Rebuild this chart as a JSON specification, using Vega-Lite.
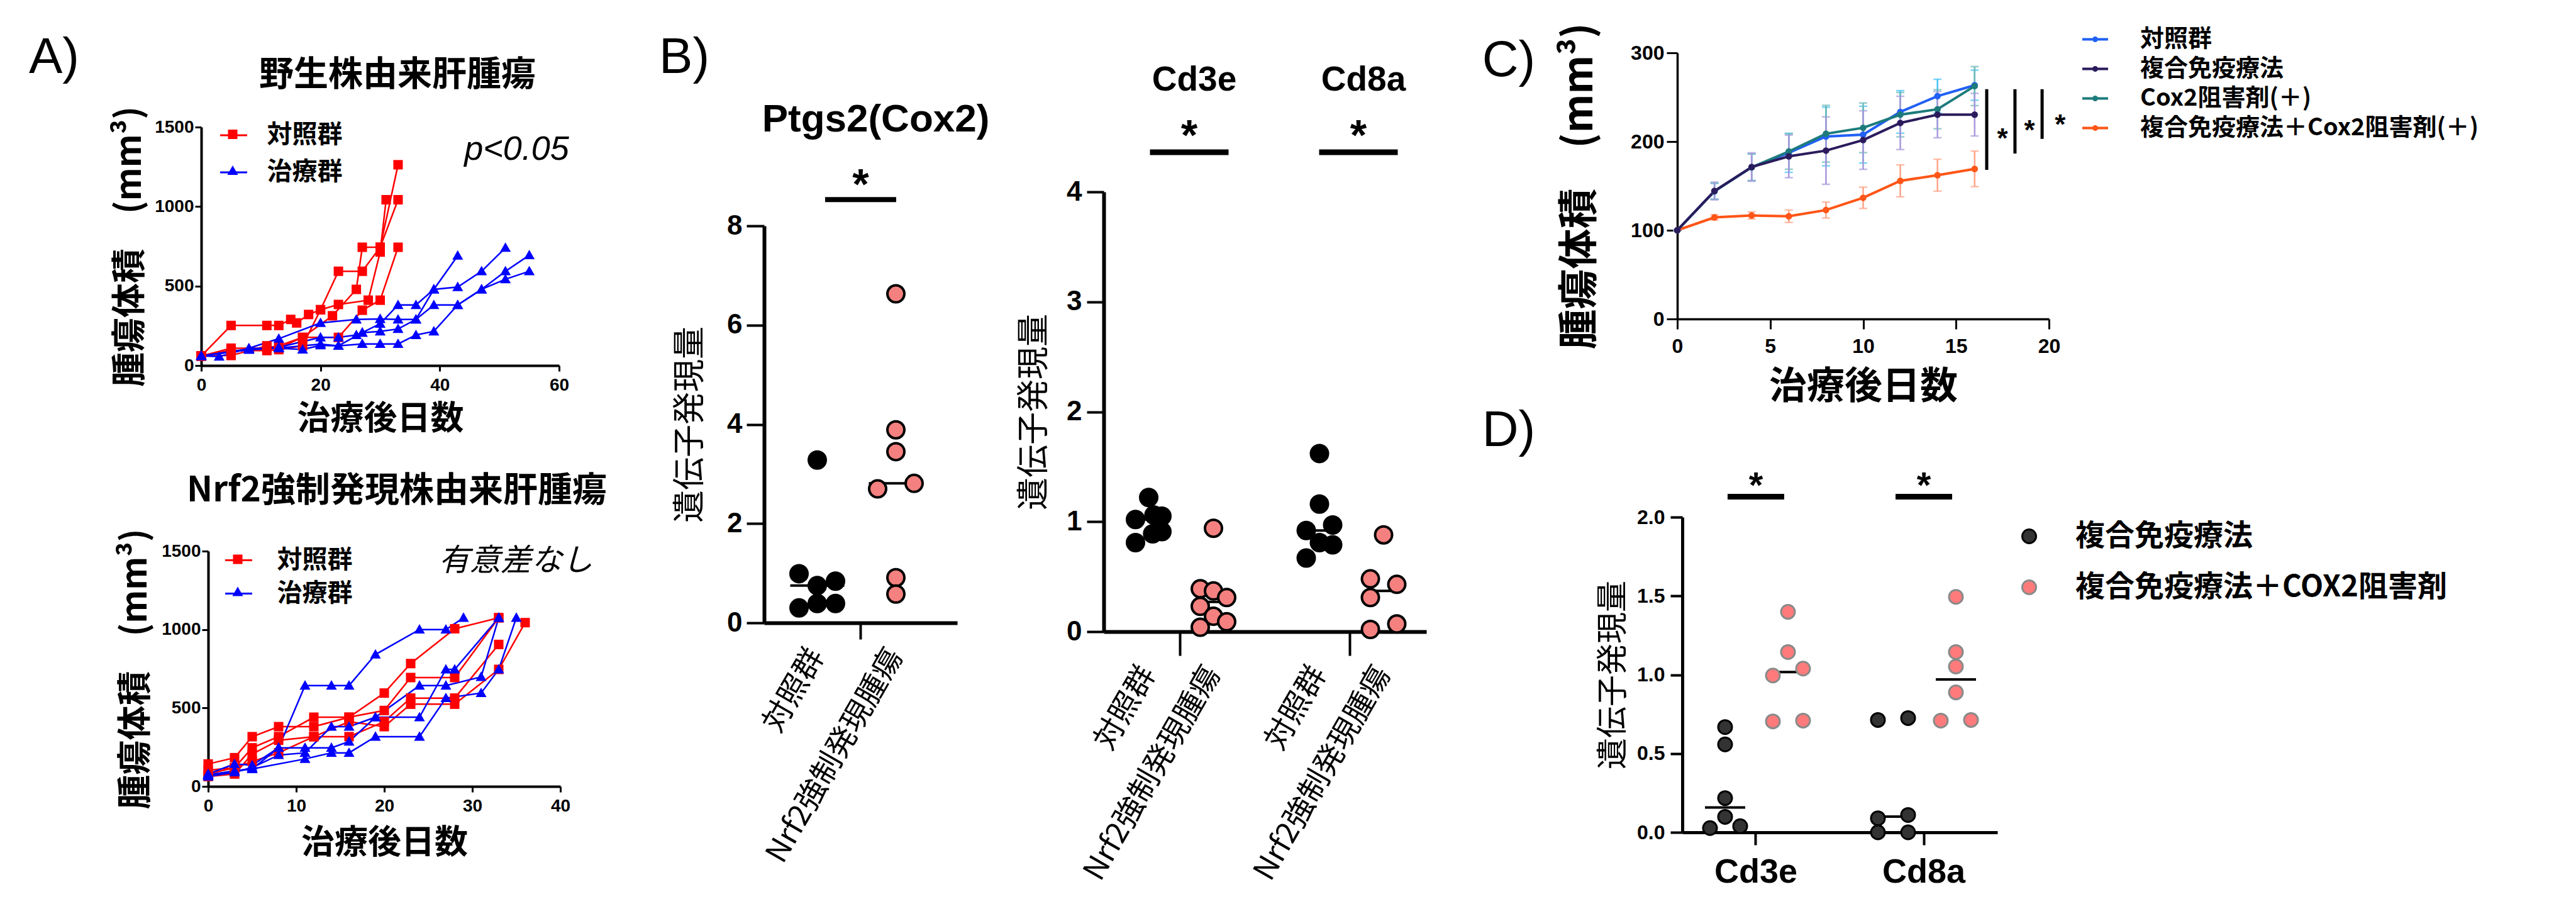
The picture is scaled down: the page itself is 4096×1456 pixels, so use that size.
{
"$schema": "https://vega.github.io/schema/vega-lite/v6.json",
"width": 4096, "height": 1456, "autosize": {"type": "none"}, "padding": 0, "background": "white",
"config": {
  "view": {"stroke": null},
  "axis": {"grid": false, "domainColor": "#000", "tickColor": "#000", "labelColor": "#000", "titleColor": "#000", "labelLimit": 3000, "titleLimit": 3000, "labelOverlap": false, "labelFlush": false, "labelFont": "Liberation Sans", "labelFontWeight": "bold", "titleFont": "Noto Sans CJK JP", "titleFontWeight": "bold"},
  "legend": {"labelLimit": 3000, "padding": 0, "labelColor": "#000"},
  "text": {"color": "#000"}
},
"datasets": {
  "wt": [
    {"mouse":"R1","group":"対照群","day":0,"vol":60},{"mouse":"R1","group":"対照群","day":5,"vol":252},{"mouse":"R1","group":"対照群","day":11,"vol":252},{"mouse":"R1","group":"対照群","day":13,"vol":252},{"mouse":"R1","group":"対照群","day":15,"vol":290},{"mouse":"R1","group":"対照群","day":16,"vol":268},{"mouse":"R1","group":"対照群","day":18,"vol":321},{"mouse":"R1","group":"対照群","day":20,"vol":351},{"mouse":"R1","group":"対照群","day":23,"vol":593},{"mouse":"R1","group":"対照群","day":27,"vol":593},{"mouse":"R1","group":"対照群","day":30,"vol":744},{"mouse":"R1","group":"対照群","day":33,"vol":1263},
    {"mouse":"R2","group":"対照群","day":0,"vol":60},{"mouse":"R2","group":"対照群","day":5,"vol":109},{"mouse":"R2","group":"対照群","day":11,"vol":110},{"mouse":"R2","group":"対照群","day":13,"vol":124},{"mouse":"R2","group":"対照群","day":17,"vol":177},{"mouse":"R2","group":"対照群","day":23,"vol":177},{"mouse":"R2","group":"対照群","day":27,"vol":348},{"mouse":"R2","group":"対照群","day":30,"vol":411},{"mouse":"R2","group":"対照群","day":33,"vol":744},
    {"mouse":"R3","group":"対照群","day":0,"vol":60},{"mouse":"R3","group":"対照群","day":5,"vol":95},{"mouse":"R3","group":"対照群","day":11,"vol":94},{"mouse":"R3","group":"対照群","day":13,"vol":100},{"mouse":"R3","group":"対照群","day":17,"vol":124},{"mouse":"R3","group":"対照群","day":20,"vol":351},{"mouse":"R3","group":"対照群","day":23,"vol":384},{"mouse":"R3","group":"対照群","day":28,"vol":411},{"mouse":"R3","group":"対照群","day":30,"vol":714},{"mouse":"R3","group":"対照群","day":31,"vol":1043},
    {"mouse":"R4","group":"対照群","day":0,"vol":60},{"mouse":"R4","group":"対照群","day":5,"vol":63},{"mouse":"R4","group":"対照群","day":11,"vol":124},{"mouse":"R4","group":"対照群","day":13,"vol":110},{"mouse":"R4","group":"対照群","day":17,"vol":177},{"mouse":"R4","group":"対照群","day":22,"vol":313},{"mouse":"R4","group":"対照群","day":26,"vol":479},{"mouse":"R4","group":"対照群","day":27,"vol":744},{"mouse":"R4","group":"対照群","day":30,"vol":744},{"mouse":"R4","group":"対照群","day":33,"vol":1043},
    {"mouse":"B1","group":"治療群","day":0,"vol":60},{"mouse":"B1","group":"治療群","day":3,"vol":56},{"mouse":"B1","group":"治療群","day":8,"vol":109},{"mouse":"B1","group":"治療群","day":13,"vol":169},{"mouse":"B1","group":"治療群","day":20,"vol":268},{"mouse":"B1","group":"治療群","day":26,"vol":290},{"mouse":"B1","group":"治療群","day":30,"vol":293},{"mouse":"B1","group":"治療群","day":33,"vol":290},{"mouse":"B1","group":"治療群","day":36,"vol":290},{"mouse":"B1","group":"治療群","day":39,"vol":479},{"mouse":"B1","group":"治療群","day":43,"vol":691},
    {"mouse":"B2","group":"治療群","day":0,"vol":60},{"mouse":"B2","group":"治療群","day":8,"vol":100},{"mouse":"B2","group":"治療群","day":13,"vol":109},{"mouse":"B2","group":"治療群","day":17,"vol":101},{"mouse":"B2","group":"治療群","day":20,"vol":127},{"mouse":"B2","group":"治療群","day":23,"vol":124},{"mouse":"B2","group":"治療群","day":27,"vol":136},{"mouse":"B2","group":"治療群","day":30,"vol":136},{"mouse":"B2","group":"治療群","day":33,"vol":136},{"mouse":"B2","group":"治療群","day":36,"vol":192},{"mouse":"B2","group":"治療群","day":39,"vol":215},{"mouse":"B2","group":"治療群","day":43,"vol":381},{"mouse":"B2","group":"治療群","day":47,"vol":479},{"mouse":"B2","group":"治療群","day":51,"vol":543},{"mouse":"B2","group":"治療群","day":55,"vol":593},
    {"mouse":"B3","group":"治療群","day":0,"vol":60},{"mouse":"B3","group":"治療群","day":8,"vol":105},{"mouse":"B3","group":"治療群","day":13,"vol":115},{"mouse":"B3","group":"治療群","day":20,"vol":177},{"mouse":"B3","group":"治療群","day":23,"vol":177},{"mouse":"B3","group":"治療群","day":26,"vol":192},{"mouse":"B3","group":"治療群","day":27,"vol":207},{"mouse":"B3","group":"治療群","day":30,"vol":263},{"mouse":"B3","group":"治療群","day":33,"vol":381},{"mouse":"B3","group":"治療群","day":36,"vol":381},{"mouse":"B3","group":"治療群","day":39,"vol":479},{"mouse":"B3","group":"治療群","day":43,"vol":494},{"mouse":"B3","group":"治療群","day":47,"vol":593},{"mouse":"B3","group":"治療群","day":51,"vol":741},
    {"mouse":"B4","group":"治療群","day":0,"vol":60},{"mouse":"B4","group":"治療群","day":8,"vol":100},{"mouse":"B4","group":"治療群","day":13,"vol":110},{"mouse":"B4","group":"治療群","day":20,"vol":135},{"mouse":"B4","group":"治療群","day":23,"vol":124},{"mouse":"B4","group":"治療群","day":27,"vol":207},{"mouse":"B4","group":"治療群","day":30,"vol":215},{"mouse":"B4","group":"治療群","day":33,"vol":230},{"mouse":"B4","group":"治療群","day":36,"vol":290},{"mouse":"B4","group":"治療群","day":39,"vol":381},{"mouse":"B4","group":"治療群","day":43,"vol":381},{"mouse":"B4","group":"治療群","day":47,"vol":479},{"mouse":"B4","group":"治療群","day":51,"vol":593},{"mouse":"B4","group":"治療群","day":55,"vol":694}
  ],
  "nrf2": [
    {"mouse":"R1","group":"対照群","day":0,"vol":143},{"mouse":"R1","group":"対照群","day":3,"vol":183},{"mouse":"R1","group":"対照群","day":5,"vol":317},{"mouse":"R1","group":"対照群","day":8,"vol":381},{"mouse":"R1","group":"対照群","day":12,"vol":381},{"mouse":"R1","group":"対照群","day":16,"vol":441},{"mouse":"R1","group":"対照群","day":20,"vol":595},{"mouse":"R1","group":"対照群","day":23,"vol":783},{"mouse":"R1","group":"対照群","day":28,"vol":1005},{"mouse":"R1","group":"対照群","day":33,"vol":1075},
    {"mouse":"R2","group":"対照群","day":0,"vol":103},{"mouse":"R2","group":"対照群","day":3,"vol":119},{"mouse":"R2","group":"対照群","day":5,"vol":246},{"mouse":"R2","group":"対照群","day":8,"vol":317},{"mouse":"R2","group":"対照群","day":12,"vol":441},{"mouse":"R2","group":"対照群","day":16,"vol":441},{"mouse":"R2","group":"対照群","day":20,"vol":484},{"mouse":"R2","group":"対照群","day":23,"vol":694},{"mouse":"R2","group":"対照群","day":28,"vol":694},{"mouse":"R2","group":"対照群","day":33,"vol":1075},
    {"mouse":"R3","group":"対照群","day":0,"vol":63},{"mouse":"R3","group":"対照群","day":3,"vol":79},{"mouse":"R3","group":"対照群","day":5,"vol":206},{"mouse":"R3","group":"対照群","day":8,"vol":294},{"mouse":"R3","group":"対照群","day":12,"vol":317},{"mouse":"R3","group":"対照群","day":16,"vol":317},{"mouse":"R3","group":"対照群","day":20,"vol":413},{"mouse":"R3","group":"対照群","day":23,"vol":563},{"mouse":"R3","group":"対照群","day":28,"vol":563},{"mouse":"R3","group":"対照群","day":33,"vol":905},
    {"mouse":"R4","group":"対照群","day":0,"vol":80},{"mouse":"R4","group":"対照群","day":3,"vol":119},{"mouse":"R4","group":"対照群","day":5,"vol":159},{"mouse":"R4","group":"対照群","day":8,"vol":214},{"mouse":"R4","group":"対照群","day":12,"vol":317},{"mouse":"R4","group":"対照群","day":16,"vol":413},{"mouse":"R4","group":"対照群","day":20,"vol":381},{"mouse":"R4","group":"対照群","day":23,"vol":524},{"mouse":"R4","group":"対照群","day":28,"vol":524},{"mouse":"R4","group":"対照群","day":33,"vol":746},{"mouse":"R4","group":"対照群","day":36,"vol":1044},
    {"mouse":"B1","group":"治療群","day":0,"vol":80},{"mouse":"B1","group":"治療群","day":3,"vol":143},{"mouse":"B1","group":"治療群","day":5,"vol":135},{"mouse":"B1","group":"治療群","day":8,"vol":246},{"mouse":"B1","group":"治療群","day":11,"vol":643},{"mouse":"B1","group":"治療群","day":14,"vol":643},{"mouse":"B1","group":"治療群","day":16,"vol":643},{"mouse":"B1","group":"治療群","day":19,"vol":841},{"mouse":"B1","group":"治療群","day":24,"vol":1000},{"mouse":"B1","group":"治療群","day":27,"vol":1000},{"mouse":"B1","group":"治療群","day":29,"vol":1075},
    {"mouse":"B2","group":"治療群","day":0,"vol":70},{"mouse":"B2","group":"治療群","day":3,"vol":100},{"mouse":"B2","group":"治療群","day":5,"vol":111},{"mouse":"B2","group":"治療群","day":8,"vol":246},{"mouse":"B2","group":"治療群","day":11,"vol":246},{"mouse":"B2","group":"治療群","day":14,"vol":246},{"mouse":"B2","group":"治療群","day":16,"vol":286},{"mouse":"B2","group":"治療群","day":19,"vol":441},{"mouse":"B2","group":"治療群","day":24,"vol":441},{"mouse":"B2","group":"治療群","day":27,"vol":746},{"mouse":"B2","group":"治療群","day":28,"vol":746},{"mouse":"B2","group":"治療群","day":33,"vol":1075},
    {"mouse":"B3","group":"治療群","day":0,"vol":63},{"mouse":"B3","group":"治療群","day":3,"vol":90},{"mouse":"B3","group":"治療群","day":5,"vol":120},{"mouse":"B3","group":"治療群","day":8,"vol":200},{"mouse":"B3","group":"治療群","day":11,"vol":214},{"mouse":"B3","group":"治療群","day":14,"vol":381},{"mouse":"B3","group":"治療群","day":16,"vol":381},{"mouse":"B3","group":"治療群","day":19,"vol":441},{"mouse":"B3","group":"治療群","day":24,"vol":643},{"mouse":"B3","group":"治療群","day":27,"vol":643},{"mouse":"B3","group":"治療群","day":31,"vol":698},{"mouse":"B3","group":"治療群","day":33,"vol":1075},
    {"mouse":"B4","group":"治療群","day":0,"vol":75},{"mouse":"B4","group":"治療群","day":5,"vol":111},{"mouse":"B4","group":"治療群","day":11,"vol":175},{"mouse":"B4","group":"治療群","day":14,"vol":214},{"mouse":"B4","group":"治療群","day":16,"vol":214},{"mouse":"B4","group":"治療群","day":19,"vol":317},{"mouse":"B4","group":"治療群","day":24,"vol":317},{"mouse":"B4","group":"治療群","day":27,"vol":563},{"mouse":"B4","group":"治療群","day":31,"vol":595},{"mouse":"B4","group":"治療群","day":33,"vol":746},{"mouse":"B4","group":"治療群","day":35,"vol":1075}
  ],
  "bptgs": [
    {"gene":"Ptgs2","group":"対照群","value":3.28,"slot":0},{"gene":"Ptgs2","group":"対照群","value":0.99,"slot":-1},{"gene":"Ptgs2","group":"対照群","value":0.84,"slot":1},{"gene":"Ptgs2","group":"対照群","value":0.75,"slot":0},{"gene":"Ptgs2","group":"対照群","value":0.39,"slot":0},{"gene":"Ptgs2","group":"対照群","value":0.39,"slot":1},{"gene":"Ptgs2","group":"対照群","value":0.30,"slot":-1},
    {"gene":"Ptgs2","group":"Nrf2強制発現腫瘍","value":6.63,"slot":0},{"gene":"Ptgs2","group":"Nrf2強制発現腫瘍","value":3.89,"slot":0},{"gene":"Ptgs2","group":"Nrf2強制発現腫瘍","value":3.45,"slot":0},{"gene":"Ptgs2","group":"Nrf2強制発現腫瘍","value":2.70,"slot":-1},{"gene":"Ptgs2","group":"Nrf2強制発現腫瘍","value":2.81,"slot":1},{"gene":"Ptgs2","group":"Nrf2強制発現腫瘍","value":0.91,"slot":0},{"gene":"Ptgs2","group":"Nrf2強制発現腫瘍","value":0.58,"slot":0}
  ],
  "bcd": [
    {"gene":"Cd3e","group":"対照群","value":1.22,"slot":0},{"gene":"Cd3e","group":"対照群","value":1.02,"slot":-1},{"gene":"Cd3e","group":"対照群","value":1.06,"slot":0.4},{"gene":"Cd3e","group":"対照群","value":1.05,"slot":1},{"gene":"Cd3e","group":"対照群","value":0.81,"slot":-1},{"gene":"Cd3e","group":"対照群","value":0.89,"slot":0.3},{"gene":"Cd3e","group":"対照群","value":0.91,"slot":1},
    {"gene":"Cd3e","group":"Nrf2強制発現腫瘍","value":0.94,"slot":0},{"gene":"Cd3e","group":"Nrf2強制発現腫瘍","value":0.39,"slot":-1},{"gene":"Cd3e","group":"Nrf2強制発現腫瘍","value":0.37,"slot":0},{"gene":"Cd3e","group":"Nrf2強制発現腫瘍","value":0.31,"slot":1},{"gene":"Cd3e","group":"Nrf2強制発現腫瘍","value":0.23,"slot":-1},{"gene":"Cd3e","group":"Nrf2強制発現腫瘍","value":0.14,"slot":0},{"gene":"Cd3e","group":"Nrf2強制発現腫瘍","value":0.04,"slot":-1},{"gene":"Cd3e","group":"Nrf2強制発現腫瘍","value":0.09,"slot":1},
    {"gene":"Cd8a","group":"対照群","value":1.62,"slot":0},{"gene":"Cd8a","group":"対照群","value":1.16,"slot":0},{"gene":"Cd8a","group":"対照群","value":0.92,"slot":-1},{"gene":"Cd8a","group":"対照群","value":0.97,"slot":1},{"gene":"Cd8a","group":"対照群","value":0.81,"slot":0},{"gene":"Cd8a","group":"対照群","value":0.79,"slot":1},{"gene":"Cd8a","group":"対照群","value":0.67,"slot":-1},
    {"gene":"Cd8a","group":"Nrf2強制発現腫瘍","value":0.88,"slot":0},{"gene":"Cd8a","group":"Nrf2強制発現腫瘍","value":0.48,"slot":-1},{"gene":"Cd8a","group":"Nrf2強制発現腫瘍","value":0.43,"slot":1},{"gene":"Cd8a","group":"Nrf2強制発現腫瘍","value":0.31,"slot":-1},{"gene":"Cd8a","group":"Nrf2強制発現腫瘍","value":0.02,"slot":-1},{"gene":"Cd8a","group":"Nrf2強制発現腫瘍","value":0.07,"slot":1}
  ],
  "dd": [
    {"gene":"Cd3e","group":"複合免疫療法","value":0.668,"slot":0},{"gene":"Cd3e","group":"複合免疫療法","value":0.558,"slot":0},{"gene":"Cd3e","group":"複合免疫療法","value":0.217,"slot":0},{"gene":"Cd3e","group":"複合免疫療法","value":0.098,"slot":0},{"gene":"Cd3e","group":"複合免疫療法","value":0.027,"slot":-1},{"gene":"Cd3e","group":"複合免疫療法","value":0.039,"slot":1},
    {"gene":"Cd3e","group":"複合免疫療法＋COX2阻害剤","value":1.399,"slot":0},{"gene":"Cd3e","group":"複合免疫療法＋COX2阻害剤","value":1.144,"slot":0},{"gene":"Cd3e","group":"複合免疫療法＋COX2阻害剤","value":0.995,"slot":-1},{"gene":"Cd3e","group":"複合免疫療法＋COX2阻害剤","value":1.039,"slot":1},{"gene":"Cd3e","group":"複合免疫療法＋COX2阻害剤","value":0.704,"slot":-1},{"gene":"Cd3e","group":"複合免疫療法＋COX2阻害剤","value":0.709,"slot":1},
    {"gene":"Cd8a","group":"複合免疫療法","value":0.713,"slot":-1},{"gene":"Cd8a","group":"複合免疫療法","value":0.725,"slot":1},{"gene":"Cd8a","group":"複合免疫療法","value":0.089,"slot":-1},{"gene":"Cd8a","group":"複合免疫療法","value":0.11,"slot":1},{"gene":"Cd8a","group":"複合免疫療法","value":0.0,"slot":-1},{"gene":"Cd8a","group":"複合免疫療法","value":0.0,"slot":1},
    {"gene":"Cd8a","group":"複合免疫療法＋COX2阻害剤","value":1.494,"slot":0},{"gene":"Cd8a","group":"複合免疫療法＋COX2阻害剤","value":1.144,"slot":0},{"gene":"Cd8a","group":"複合免疫療法＋COX2阻害剤","value":1.052,"slot":0},{"gene":"Cd8a","group":"複合免疫療法＋COX2阻害剤","value":0.888,"slot":0},{"gene":"Cd8a","group":"複合免疫療法＋COX2阻害剤","value":0.709,"slot":-1},{"gene":"Cd8a","group":"複合免疫療法＋COX2阻害剤","value":0.713,"slot":1}
  ],
  "cdata": [
    {"group":"複合免疫療法＋Cox2阻害剤(＋)","day":0,"mean":100,"sem":0},{"group":"複合免疫療法＋Cox2阻害剤(＋)","day":2,"mean":114.5,"sem":3},{"group":"複合免疫療法＋Cox2阻害剤(＋)","day":4,"mean":116.7,"sem":4},{"group":"複合免疫療法＋Cox2阻害剤(＋)","day":6,"mean":115.8,"sem":7},{"group":"複合免疫療法＋Cox2阻害剤(＋)","day":8,"mean":122.8,"sem":9},{"group":"複合免疫療法＋Cox2阻害剤(＋)","day":10,"mean":136.6,"sem":12},{"group":"複合免疫療法＋Cox2阻害剤(＋)","day":12,"mean":155.7,"sem":18},{"group":"複合免疫療法＋Cox2阻害剤(＋)","day":14,"mean":162.1,"sem":18},{"group":"複合免疫療法＋Cox2阻害剤(＋)","day":16,"mean":169.2,"sem":20},
    {"group":"対照群","day":0,"mean":100,"sem":0},{"group":"対照群","day":2,"mean":144,"sem":9},{"group":"対照群","day":4,"mean":171,"sem":15},{"group":"対照群","day":6,"mean":187.3,"sem":22},{"group":"対照群","day":8,"mean":205.7,"sem":33},{"group":"対照群","day":10,"mean":207.8,"sem":32},{"group":"対照群","day":12,"mean":233.4,"sem":24},{"group":"対照群","day":14,"mean":251.2,"sem":19},{"group":"対照群","day":16,"mean":263.5,"sem":17},
    {"group":"Cox2阻害剤(＋)","day":0,"mean":100,"sem":0},{"group":"Cox2阻害剤(＋)","day":2,"mean":144,"sem":9},{"group":"Cox2阻害剤(＋)","day":4,"mean":171,"sem":15},{"group":"Cox2阻害剤(＋)","day":6,"mean":188.8,"sem":20},{"group":"Cox2阻害剤(＋)","day":8,"mean":208.8,"sem":32},{"group":"Cox2阻害剤(＋)","day":10,"mean":215.5,"sem":28},{"group":"Cox2阻害剤(＋)","day":12,"mean":230.3,"sem":25},{"group":"Cox2阻害剤(＋)","day":14,"mean":236.4,"sem":22},{"group":"Cox2阻害剤(＋)","day":16,"mean":262.5,"sem":22},
    {"group":"複合免疫療法","day":0,"mean":100,"sem":0},{"group":"複合免疫療法","day":2,"mean":144.3,"sem":10},{"group":"複合免疫療法","day":4,"mean":171.3,"sem":16},{"group":"複合免疫療法","day":6,"mean":183.3,"sem":24},{"group":"複合免疫療法","day":8,"mean":189.8,"sem":38},{"group":"複合免疫療法","day":10,"mean":201.7,"sem":33},{"group":"複合免疫療法","day":12,"mean":221,"sem":30},{"group":"複合免疫療法","day":14,"mean":230.3,"sem":26},{"group":"複合免疫療法","day":16,"mean":230.3,"sem":24}
  ]
},
"layer": [
  {
    "data": {"name": "wt"},
    "mark": {"type": "line", "strokeWidth": 2.5},
    "encoding": {
      "x": {"field": "day", "type": "quantitative", "scale": {"domain": [0, 60], "range": [320, 889], "nice": false, "zero": false},
            "axis": {"orient": "bottom", "offset": -875, "values": [0, 20, 40, 60], "tickSize": 9, "tickWidth": 3, "domainWidth": 4, "labelFontSize": 28, "labelPadding": 8, "title": "治療後日数", "titleFontSize": 53, "titlePadding": 14}},
      "y": {"field": "vol", "type": "quantitative", "scale": {"domain": [0, 1500], "range": [581, 202], "nice": false, "zero": false},
            "axis": {"orient": "left", "offset": -320, "values": [0, 500, 1000, 1500], "format": "d", "tickSize": 10, "tickWidth": 3, "domainWidth": 4, "labelFontSize": 28, "labelPadding": 2, "title": "腫瘍体積　(mm³)", "titleFontSize": 55, "titlePadding": 10}},
      "color": {"field": "group", "type": "nominal", "scale": {"domain": ["対照群", "治療群"], "range": ["#ff0000", "#0000ff"]},
          "legend": {"orient": "none", "legendX": 348.5, "legendY": 192, "title": null, "symbolType": "stroke", "symbolSize": 1849, "symbolStrokeWidth": 3, "labelFont": "Noto Sans CJK JP", "labelFontSize": 40, "labelFontWeight": "bold", "labelOffset": 30, "rowPadding": 16}},
      "detail": {"field": "mouse", "type": "nominal"}
    }
  },
  {
    "data": {"name": "wt"},
    "mark": {"type": "point", "filled": true, "size": 1849, "opacity": 1, "strokeWidth": 0},
    "encoding": {
      "x": {"field": "day", "type": "quantitative", "scale": {"domain": [0, 60], "range": [320, 889], "nice": false, "zero": false}, "axis": null},
      "y": {"field": "vol", "type": "quantitative", "scale": {"domain": [0, 1500], "range": [581, 202], "nice": false, "zero": false}, "axis": null},
      "color": {"field": "group", "type": "nominal", "scale": {"domain": ["対照群", "治療群"], "range": ["#ff0000", "#0000ff"]},
        "legend": {"orient": "none", "legendX": 348.5, "legendY": 192, "title": null, "symbolSize": 1849, "symbolStrokeWidth": 0, "labelFont": "Noto Sans CJK JP", "labelFontSize": 40, "labelFontWeight": "bold", "labelOffset": 30, "rowPadding": 16, "labelOpacity": 0}},
      "shape": {"field": "group", "type": "nominal", "scale": {"domain": ["対照群", "治療群"], "range": ["M-0.35,-0.35H0.35V0.35H-0.35Z", "M0,-0.4L0.4,0.3H-0.4Z"]},
        "legend": {"orient": "none", "legendX": 348.5, "legendY": 192, "title": null, "symbolSize": 1849, "symbolStrokeWidth": 0, "labelFont": "Noto Sans CJK JP", "labelFontSize": 40, "labelFontWeight": "bold", "labelOffset": 30, "rowPadding": 16, "labelOpacity": 0}}
    }
  },
  {"data": {"values": [{"t": "野生株由来肝腫瘍"}]}, "mark": {"type": "text", "font": "Noto Sans CJK JP", "fontSize": 55, "fontWeight": "bold", "align": "center", "baseline": "middle"},
   "encoding": {"x": {"datum": 32.9, "type": "quantitative", "scale": {"domain": [0, 60], "range": [320, 889], "nice": false, "zero": false}, "axis": null},
     "y": {"datum": 1828, "type": "quantitative", "scale": {"domain": [0, 1500], "range": [581, 202], "nice": false, "zero": false}, "axis": null}, "text": {"field": "t"}}},
  {"data": {"values": [{"t": "p<0.05"}]}, "mark": {"type": "text", "font": "Liberation Sans", "fontSize": 54, "fontStyle": "italic", "align": "left", "baseline": "middle"},
   "encoding": {"x": {"datum": 44.1, "type": "quantitative", "scale": {"domain": [0, 60], "range": [320, 889], "nice": false, "zero": false}, "axis": null},
     "y": {"datum": 1357, "type": "quantitative", "scale": {"domain": [0, 1500], "range": [581, 202], "nice": false, "zero": false}, "axis": null}, "text": {"field": "t"}}},
  {"data": {"values": [{"t": "A)"}]}, "mark": {"type": "text", "font": "Liberation Sans", "fontSize": 80, "align": "left", "baseline": "middle"},
   "encoding": {"x": {"datum": -28.9, "type": "quantitative", "scale": {"domain": [0, 60], "range": [320, 889], "nice": false, "zero": false}, "axis": null},
     "y": {"datum": 1935, "type": "quantitative", "scale": {"domain": [0, 1500], "range": [581, 202], "nice": false, "zero": false}, "axis": null}, "text": {"field": "t"}}},
  {"data": {"values": [{"t": "B)"}]}, "mark": {"type": "text", "font": "Liberation Sans", "fontSize": 80, "align": "left", "baseline": "middle"},
   "encoding": {"x": {"datum": 76.77, "type": "quantitative", "scale": {"domain": [0, 60], "range": [320, 889], "nice": false, "zero": false}, "axis": null},
     "y": {"datum": 1935, "type": "quantitative", "scale": {"domain": [0, 1500], "range": [581, 202], "nice": false, "zero": false}, "axis": null}, "text": {"field": "t"}}},
  {
    "data": {"name": "nrf2"},
    "mark": {"type": "line", "strokeWidth": 2.5},
    "encoding": {
      "x": {"field": "day", "type": "quantitative", "scale": {"domain": [0, 40], "range": [331, 891], "nice": false, "zero": false},
            "axis": {"orient": "bottom", "offset": -206, "values": [0, 10, 20, 30, 40], "tickSize": 9, "tickWidth": 3, "domainWidth": 4, "labelFontSize": 28, "labelPadding": 8, "title": "治療後日数", "titleFontSize": 53, "titlePadding": 19}},
      "y": {"field": "vol", "type": "quantitative", "scale": {"domain": [0, 1500], "range": [1250, 876], "nice": false, "zero": false},
            "axis": {"orient": "left", "offset": -331, "values": [0, 500, 1000, 1500], "format": "d", "tickSize": 10, "tickWidth": 3, "domainWidth": 4, "labelFontSize": 28, "labelPadding": 2, "title": "腫瘍体積　(mm³)", "titleFontSize": 55, "titlePadding": 12}},
      "color": {"field": "group", "type": "nominal", "scale": {"domain": ["対照群", "治療群"], "range": ["#ff0000", "#0000ff"]},
          "legend": {"orient": "none", "legendX": 356.5, "legendY": 867.5, "title": null, "symbolType": "stroke", "symbolSize": 1849, "symbolStrokeWidth": 3, "labelFont": "Noto Sans CJK JP", "labelFontSize": 40, "labelFontWeight": "bold", "labelOffset": 38, "rowPadding": 10}},
      "detail": {"field": "mouse", "type": "nominal"}
    }
  },
  {
    "data": {"name": "nrf2"},
    "mark": {"type": "point", "filled": true, "size": 1849, "opacity": 1, "strokeWidth": 0},
    "encoding": {
      "x": {"field": "day", "type": "quantitative", "scale": {"domain": [0, 40], "range": [331, 891], "nice": false, "zero": false}, "axis": null},
      "y": {"field": "vol", "type": "quantitative", "scale": {"domain": [0, 1500], "range": [1250, 876], "nice": false, "zero": false}, "axis": null},
      "color": {"field": "group", "type": "nominal", "scale": {"domain": ["対照群", "治療群"], "range": ["#ff0000", "#0000ff"]},
        "legend": {"orient": "none", "legendX": 356.5, "legendY": 867.5, "title": null, "symbolSize": 1849, "symbolStrokeWidth": 0, "labelFont": "Noto Sans CJK JP", "labelFontSize": 40, "labelFontWeight": "bold", "labelOffset": 38, "rowPadding": 10, "labelOpacity": 0}},
      "shape": {"field": "group", "type": "nominal", "scale": {"domain": ["対照群", "治療群"], "range": ["M-0.35,-0.35H0.35V0.35H-0.35Z", "M0,-0.4L0.4,0.3H-0.4Z"]},
        "legend": {"orient": "none", "legendX": 356.5, "legendY": 867.5, "title": null, "symbolSize": 1849, "symbolStrokeWidth": 0, "labelFont": "Noto Sans CJK JP", "labelFontSize": 40, "labelFontWeight": "bold", "labelOffset": 38, "rowPadding": 10, "labelOpacity": 0}}
    }
  },
  {"data": {"values": [{"t": "Nrf2強制発現株由来肝腫瘍"}]}, "mark": {"type": "text", "font": "Noto Sans CJK JP", "fontSize": 55, "fontWeight": "bold", "align": "center", "baseline": "middle"},
   "encoding": {"x": {"datum": 21.43, "type": "quantitative", "scale": {"domain": [0, 40], "range": [331, 891], "nice": false, "zero": false}, "axis": null},
     "y": {"datum": 1885, "type": "quantitative", "scale": {"domain": [0, 1500], "range": [1250, 876], "nice": false, "zero": false}, "axis": null}, "text": {"field": "t"}}},
  {"data": {"values": [{"t": "有意差なし"}]}, "mark": {"type": "text", "font": "Noto Sans CJK JP", "fontSize": 49, "fontStyle": "italic", "align": "left", "baseline": "middle"},
   "encoding": {"x": {"datum": 26.2, "type": "quantitative", "scale": {"domain": [0, 40], "range": [331, 891], "nice": false, "zero": false}, "axis": null},
     "y": {"datum": 1436, "type": "quantitative", "scale": {"domain": [0, 1500], "range": [1250, 876], "nice": false, "zero": false}, "axis": null}, "text": {"field": "t"}}},
  {
    "data": {"values": [{"gene": "Ptgs2", "title": "Ptgs2(Cox2)"}]},
    "mark": {"type": "tick", "orient": "horizontal", "size": 113, "thickness": 8, "color": "#000", "opacity": 1},
    "encoding": {
      "x": {"field": "gene", "type": "nominal", "scale": {"type": "band", "domain": ["Ptgs2"], "range": [1215, 1522], "paddingInner": 0, "paddingOuter": 0},
        "axis": {"orient": "bottom", "offset": -466, "labels": false, "title": null, "domainWidth": 6, "tickSize": 26, "tickWidth": 4}},
      "y": {"datum": 8.53, "type": "quantitative", "scale": {"domain": [0, 8], "range": [990, 359], "nice": false, "zero": false},
        "axis": {"orient": "left", "offset": -1215, "values": [0, 2, 4, 6, 8], "tickSize": 28, "tickWidth": 4, "domainWidth": 6, "labelFontSize": 44, "labelPadding": 7, "title": "遺伝子発現量", "titleFontSize": 52, "titleFontWeight": "normal", "titlePadding": 31}}
    }
  },
  {
    "data": {"values": [{"gene": "Ptgs2", "title": "Ptgs2(Cox2)"}]},
    "mark": {"type": "text", "font": "Liberation Sans", "fontSize": 68, "fontWeight": "bold", "align": "center", "baseline": "middle"},
    "encoding": {
      "x": {"field": "gene", "type": "nominal", "scale": {"type": "band", "domain": ["Ptgs2"], "range": [1215, 1522], "paddingInner": 0, "paddingOuter": 0}, "axis": null},
      "y": {"datum": 8.8, "type": "quantitative", "scale": {"domain": [0, 8], "range": [990, 359], "nice": false, "zero": false}, "axis": null},
      "text": {"value": "*"}
    }
  },
  {
    "data": {"values": [{"gene": "Ptgs2", "title": "Ptgs2(Cox2)"}]},
    "mark": {"type": "text", "font": "Liberation Sans", "fontSize": 62, "fontWeight": "bold", "align": "center", "baseline": "middle", "dx": 24},
    "encoding": {
      "x": {"field": "gene", "type": "nominal", "scale": {"type": "band", "domain": ["Ptgs2"], "range": [1215, 1522], "paddingInner": 0, "paddingOuter": 0}, "axis": null},
      "y": {"datum": 10.14, "type": "quantitative", "scale": {"domain": [0, 8], "range": [990, 359], "nice": false, "zero": false}, "axis": null},
      "text": {"field": "title"}
    }
  },
  {
    "data": {"name": "bptgs"},
    "encoding": {
      "x": {"field": "group", "type": "nominal", "scale": {"type": "band", "domain": ["対照群", "Nrf2強制発現腫瘍"], "range": [1237, 1487], "paddingInner": 0, "paddingOuter": 0},
        "axis": {"orient": "bottom", "offset": -466, "domain": false, "ticks": false, "labelAngle": -60, "labelAlign": "right", "labelBaseline": "middle", "labelPadding": 45, "labelFont": "Noto Sans CJK JP", "labelFontSize": 48, "labelFontWeight": "normal", "title": null}},
      "y": {"field": "value", "type": "quantitative", "scale": {"domain": [0, 8], "range": [990, 359], "nice": false, "zero": false}, "axis": null}
    },
    "layer": [
      {"mark": {"type": "tick", "orient": "horizontal", "size": 86, "thickness": 4, "color": "#000", "opacity": 1},
       "encoding": {"y": {"aggregate": "median", "field": "value", "type": "quantitative", "scale": {"domain": [0, 8], "range": [990, 359], "nice": false, "zero": false}, "axis": null}}},
      {"mark": {"type": "point", "shape": "circle", "filled": true, "size": 729, "stroke": "#000", "strokeWidth": 4, "opacity": 1},
       "encoding": {"xOffset": {"field": "slot", "type": "quantitative", "scale": {"domain": [-1, 1], "range": [33.5, 91.5]}},
         "color": {"field": "group", "type": "nominal", "scale": {"domain": ["対照群", "Nrf2強制発現腫瘍"], "range": ["#000000", "#f4817f"]}, "legend": null}}}
    ]
  },
  {
    "data": {"values": [{"gene": "Cd3e"}, {"gene": "Cd8a"}]},
    "mark": {"type": "tick", "orient": "horizontal", "size": 125, "thickness": 9, "color": "#000", "opacity": 1, "xOffset": 14},
    "encoding": {
      "x": {"field": "gene", "type": "nominal", "scale": {"type": "band", "domain": ["Cd3e", "Cd8a"], "range": [1755, 2268], "paddingInner": 0.093, "paddingOuter": 0},
        "axis": {"orient": "bottom", "offset": -452, "labels": false, "title": null, "domainWidth": 6, "tickSize": 38, "tickWidth": 4}},
      "y": {"datum": 4.36, "type": "quantitative", "scale": {"domain": [0, 4], "range": [1004, 305], "nice": false, "zero": false},
        "axis": {"orient": "left", "offset": -1755, "values": [0, 1, 2, 3, 4], "tickSize": 27, "tickWidth": 4, "domainWidth": 6, "labelFontSize": 44, "labelPadding": 8, "title": "遺伝子発現量", "titleFontSize": 52, "titleFontWeight": "normal", "titlePadding": 24}}
    }
  },
  {
    "data": {"values": [{"gene": "Cd3e"}, {"gene": "Cd8a"}]},
    "mark": {"type": "text", "font": "Liberation Sans", "fontSize": 68, "fontWeight": "bold", "align": "center", "baseline": "middle", "dx": 14},
    "encoding": {
      "x": {"field": "gene", "type": "nominal", "scale": {"type": "band", "domain": ["Cd3e", "Cd8a"], "range": [1755, 2268], "paddingInner": 0.093, "paddingOuter": 0}, "axis": null},
      "y": {"datum": 4.5, "type": "quantitative", "scale": {"domain": [0, 4], "range": [1004, 305], "nice": false, "zero": false}, "axis": null},
      "text": {"value": "*"}
    }
  },
  {
    "data": {"values": [{"gene": "Cd3e"}, {"gene": "Cd8a"}]},
    "mark": {"type": "text", "font": "Liberation Sans", "fontSize": 55, "fontWeight": "bold", "align": "center", "baseline": "middle", "dx": 22},
    "encoding": {
      "x": {"field": "gene", "type": "nominal", "scale": {"type": "band", "domain": ["Cd3e", "Cd8a"], "range": [1755, 2268], "paddingInner": 0.093, "paddingOuter": 0}, "axis": null},
      "y": {"datum": 5.02, "type": "quantitative", "scale": {"domain": [0, 4], "range": [1004, 305], "nice": false, "zero": false}, "axis": null},
      "text": {"field": "gene"}
    }
  },
  {
    "data": {"name": "bcd"},
    "transform": [{"filter": {"field": "gene", "equal": "Cd3e"}}],
    "encoding": {
      "x": {"field": "group", "type": "nominal", "scale": {"type": "band", "domain": ["対照群", "Nrf2強制発現腫瘍"], "range": [1775, 1981], "paddingInner": 0, "paddingOuter": 0},
        "axis": {"orient": "bottom", "offset": -452, "domain": false, "ticks": false, "labelAngle": -60, "labelAlign": "right", "labelBaseline": "middle", "labelPadding": 59, "labelFont": "Noto Sans CJK JP", "labelFontSize": 48, "labelFontWeight": "normal", "title": null}},
      "y": {"field": "value", "type": "quantitative", "scale": {"domain": [0, 4], "range": [1004, 305], "nice": false, "zero": false}, "axis": null}
    },
    "layer": [
      {"mark": {"type": "tick", "orient": "horizontal", "size": 50, "thickness": 4, "color": "#000", "opacity": 1},
       "encoding": {"y": {"aggregate": "median", "field": "value", "type": "quantitative", "scale": {"domain": [0, 4], "range": [1004, 305], "nice": false, "zero": false}, "axis": null}}},
      {"mark": {"type": "point", "shape": "circle", "filled": true, "size": 729, "stroke": "#000", "strokeWidth": 4, "opacity": 1},
       "encoding": {"xOffset": {"field": "slot", "type": "quantitative", "scale": {"domain": [-1, 1], "range": [30.5, 72.5]}},
         "color": {"field": "group", "type": "nominal", "scale": {"domain": ["対照群", "Nrf2強制発現腫瘍"], "range": ["#000000", "#f4817f"]}, "legend": null}}}
    ]
  },
  {
    "data": {"name": "bcd"},
    "transform": [{"filter": {"field": "gene", "equal": "Cd8a"}}],
    "encoding": {
      "x": {"field": "group", "type": "nominal", "scale": {"type": "band", "domain": ["対照群", "Nrf2強制発現腫瘍"], "range": [2047, 2251], "paddingInner": 0, "paddingOuter": 0},
        "axis": {"orient": "bottom", "offset": -452, "domain": false, "ticks": false, "labelAngle": -60, "labelAlign": "right", "labelBaseline": "middle", "labelPadding": 59, "labelFont": "Noto Sans CJK JP", "labelFontSize": 48, "labelFontWeight": "normal", "title": null}},
      "y": {"field": "value", "type": "quantitative", "scale": {"domain": [0, 4], "range": [1004, 305], "nice": false, "zero": false}, "axis": null}
    },
    "layer": [
      {"mark": {"type": "tick", "orient": "horizontal", "size": 50, "thickness": 4, "color": "#000", "opacity": 1},
       "encoding": {"y": {"aggregate": "median", "field": "value", "type": "quantitative", "scale": {"domain": [0, 4], "range": [1004, 305], "nice": false, "zero": false}, "axis": null}}},
      {"mark": {"type": "point", "shape": "circle", "filled": true, "size": 729, "stroke": "#000", "strokeWidth": 4, "opacity": 1},
       "encoding": {"xOffset": {"field": "slot", "type": "quantitative", "scale": {"domain": [-1, 1], "range": [30, 72]}},
         "color": {"field": "group", "type": "nominal", "scale": {"domain": ["対照群", "Nrf2強制発現腫瘍"], "range": ["#000000", "#f4817f"]}, "legend": null}}}
    ]
  },
  {
    "data": {"name": "cdata"},
    "mark": {"type": "errorbar", "ticks": true, "size": 13, "thickness": 2.5},
    "encoding": {
      "x": {"field": "day", "type": "quantitative", "scale": {"domain": [0, 20], "range": [2667, 3258], "nice": false, "zero": false}, "axis": null},
      "y": {"field": "mean", "type": "quantitative", "scale": {"domain": [0, 300], "range": [507, 84], "nice": false, "zero": false}, "axis": null},
      "yError": {"field": "sem"},
      "color": {"field": "group", "type": "nominal", "scale": {"domain": ["対照群", "複合免疫療法", "Cox2阻害剤(＋)", "複合免疫療法＋Cox2阻害剤(＋)"], "range": ["#45c3f2", "#a898dc", "#6fb8b8", "#ffa487"]}, "legend": null}
    }
  },
  {
    "data": {"name": "cdata"},
    "mark": {"type": "line", "strokeWidth": 4, "point": {"filled": true, "size": 110, "opacity": 1}},
    "encoding": {
      "x": {"field": "day", "type": "quantitative", "scale": {"domain": [0, 20], "range": [2667, 3258], "nice": false, "zero": false},
            "axis": {"orient": "bottom", "offset": -949, "values": [0, 5, 10, 15, 20], "tickSize": 16, "tickWidth": 3, "domainWidth": 3.5, "labelFontSize": 32, "labelPadding": 12, "title": "治療後日数", "titleFontSize": 60, "titlePadding": 20}},
      "y": {"field": "mean", "type": "quantitative", "scale": {"domain": [0, 300], "range": [507, 84], "nice": false, "zero": false},
            "axis": {"orient": "left", "offset": -2667, "values": [0, 100, 200, 300], "tickSize": 17, "tickWidth": 3, "domainWidth": 3.5, "labelFontSize": 32, "labelPadding": 4, "title": "腫瘍体積　(mm³)", "titleFontSize": 64, "titlePadding": 48}},
      "color": {"field": "group", "type": "nominal", "scale": {"domain": ["対照群", "複合免疫療法", "Cox2阻害剤(＋)", "複合免疫療法＋Cox2阻害剤(＋)"], "range": ["#2160f5", "#2b1b5c", "#1d7b7b", "#ff5516"]},
         "legend": {"orient": "none", "legendX": 3309, "legendY": 40, "title": null, "symbolType": "M-1,0H1M-0.12,0A0.12,0.12,0,1,0,0.12,0A0.12,0.12,0,1,0,-0.12,0", "symbolSize": 1681, "symbolStrokeWidth": 4, "labelFont": "Noto Sans CJK JP", "labelFontSize": 38, "labelFontWeight": "bold", "labelOffset": 49, "rowPadding": 5}}
    }
  },
  {"data": {"values": [{"t": "*"}]}, "mark": {"type": "rule", "strokeWidth": 5, "color": "#000"},
   "encoding": {"x": {"datum": 16.65, "type": "quantitative", "scale": {"domain": [0, 20], "range": [2667, 3258], "nice": false, "zero": false}, "axis": null},
     "y": {"datum": 168, "type": "quantitative", "scale": {"domain": [0, 300], "range": [507, 84], "nice": false, "zero": false}, "axis": null}, "y2": {"datum": 259}}},
  {"data": {"values": [{"t": "*"}]}, "mark": {"type": "rule", "strokeWidth": 5, "color": "#000"},
   "encoding": {"x": {"datum": 18.17, "type": "quantitative", "scale": {"domain": [0, 20], "range": [2667, 3258], "nice": false, "zero": false}, "axis": null},
     "y": {"datum": 186.5, "type": "quantitative", "scale": {"domain": [0, 300], "range": [507, 84], "nice": false, "zero": false}, "axis": null}, "y2": {"datum": 259}}},
  {"data": {"values": [{"t": "*"}]}, "mark": {"type": "rule", "strokeWidth": 5, "color": "#000"},
   "encoding": {"x": {"datum": 19.63, "type": "quantitative", "scale": {"domain": [0, 20], "range": [2667, 3258], "nice": false, "zero": false}, "axis": null},
     "y": {"datum": 203, "type": "quantitative", "scale": {"domain": [0, 300], "range": [507, 84], "nice": false, "zero": false}, "axis": null}, "y2": {"datum": 259}}},
  {"data": {"values": [{"t": "*"}]}, "mark": {"type": "text", "font": "Liberation Sans", "fontSize": 44, "fontWeight": "bold", "align": "center", "baseline": "middle"},
   "encoding": {"x": {"datum": 17.5, "type": "quantitative", "scale": {"domain": [0, 20], "range": [2667, 3258], "nice": false, "zero": false}, "axis": null},
     "y": {"datum": 202, "type": "quantitative", "scale": {"domain": [0, 300], "range": [507, 84], "nice": false, "zero": false}, "axis": null}, "text": {"field": "t"}}},
  {"data": {"values": [{"t": "*"}]}, "mark": {"type": "text", "font": "Liberation Sans", "fontSize": 44, "fontWeight": "bold", "align": "center", "baseline": "middle"},
   "encoding": {"x": {"datum": 18.95, "type": "quantitative", "scale": {"domain": [0, 20], "range": [2667, 3258], "nice": false, "zero": false}, "axis": null},
     "y": {"datum": 211.3, "type": "quantitative", "scale": {"domain": [0, 300], "range": [507, 84], "nice": false, "zero": false}, "axis": null}, "text": {"field": "t"}}},
  {"data": {"values": [{"t": "*"}]}, "mark": {"type": "text", "font": "Liberation Sans", "fontSize": 44, "fontWeight": "bold", "align": "center", "baseline": "middle"},
   "encoding": {"x": {"datum": 20.6, "type": "quantitative", "scale": {"domain": [0, 20], "range": [2667, 3258], "nice": false, "zero": false}, "axis": null},
     "y": {"datum": 217.7, "type": "quantitative", "scale": {"domain": [0, 300], "range": [507, 84], "nice": false, "zero": false}, "axis": null}, "text": {"field": "t"}}},
  {"data": {"values": [{"t": "C)"}]}, "mark": {"type": "text", "font": "Liberation Sans", "fontSize": 80, "align": "left", "baseline": "middle"},
   "encoding": {"x": {"datum": -10.5, "type": "quantitative", "scale": {"domain": [0, 20], "range": [2667, 3258], "nice": false, "zero": false}, "axis": null},
     "y": {"datum": 290.8, "type": "quantitative", "scale": {"domain": [0, 300], "range": [507, 84], "nice": false, "zero": false}, "axis": null}, "text": {"field": "t"}}},
  {"data": {"values": [{"t": "D)"}]}, "mark": {"type": "text", "font": "Liberation Sans", "fontSize": 80, "align": "left", "baseline": "middle"},
   "encoding": {"x": {"datum": -10.5, "type": "quantitative", "scale": {"domain": [0, 20], "range": [2667, 3258], "nice": false, "zero": false}, "axis": null},
     "y": {"datum": -126, "type": "quantitative", "scale": {"domain": [0, 300], "range": [507, 84], "nice": false, "zero": false}, "axis": null}, "text": {"field": "t"}}},
  {
    "data": {"values": [{"gene": "Cd3e"}, {"gene": "Cd8a"}]},
    "mark": {"type": "tick", "orient": "horizontal", "size": 90, "thickness": 9, "color": "#000", "opacity": 1},
    "encoding": {
      "x": {"field": "gene", "type": "nominal", "scale": {"type": "band", "domain": ["Cd3e", "Cd8a"], "range": [2675, 3176], "paddingInner": 0.124, "paddingOuter": 0},
        "axis": {"orient": "bottom", "offset": -133, "title": null, "domainWidth": 5, "tickSize": 20, "tickWidth": 4, "labelFontSize": 54, "labelPadding": 16, "labelAngle": 0}},
      "y": {"datum": 2.13, "type": "quantitative", "scale": {"domain": [0, 2], "range": [1323, 822], "nice": false, "zero": false},
        "axis": {"orient": "left", "offset": -2675, "values": [0, 0.5, 1, 1.5, 2], "format": ".1f", "tickSize": 19, "tickWidth": 4, "domainWidth": 5, "labelFontSize": 32, "labelPadding": 9, "title": "遺伝子発現量", "titleFontSize": 50, "titleFontWeight": "normal", "titlePadding": 12}}
    }
  },
  {
    "data": {"values": [{"gene": "Cd3e"}, {"gene": "Cd8a"}]},
    "mark": {"type": "text", "font": "Liberation Sans", "fontSize": 58, "fontWeight": "bold", "align": "center", "baseline": "middle"},
    "encoding": {
      "x": {"field": "gene", "type": "nominal", "scale": {"type": "band", "domain": ["Cd3e", "Cd8a"], "range": [2675, 3176], "paddingInner": 0.124, "paddingOuter": 0}, "axis": null},
      "y": {"datum": 2.19, "type": "quantitative", "scale": {"domain": [0, 2], "range": [1323, 822], "nice": false, "zero": false}, "axis": null},
      "text": {"value": "*"}
    }
  },
  {
    "data": {"name": "dd"},
    "transform": [{"filter": {"field": "gene", "equal": "Cd3e"}}],
    "encoding": {
      "x": {"field": "group", "type": "nominal", "scale": {"type": "band", "domain": ["複合免疫療法", "複合免疫療法＋COX2阻害剤"], "range": [2693, 2893], "paddingInner": 0, "paddingOuter": 0}, "axis": null},
      "y": {"field": "value", "type": "quantitative", "scale": {"domain": [0, 2], "range": [1323, 822], "nice": false, "zero": false}, "axis": null}
    },
    "layer": [
      {"mark": {"type": "tick", "orient": "horizontal", "size": 64, "thickness": 4, "color": "#000", "opacity": 1},
       "encoding": {"y": {"aggregate": "median", "field": "value", "type": "quantitative", "scale": {"domain": [0, 2], "range": [1323, 822], "nice": false, "zero": false}, "axis": null}}},
      {"mark": {"type": "point", "shape": "circle", "filled": true, "size": 484, "strokeWidth": 3, "opacity": 1},
       "encoding": {"xOffset": {"field": "slot", "type": "quantitative", "scale": {"domain": [-1, 1], "range": [26, 74]}},
         "fill": {"field": "group", "type": "nominal", "scale": {"domain": ["複合免疫療法", "複合免疫療法＋COX2阻害剤"], "range": ["#333333", "#ff7b7b"]},
           "legend": {"orient": "none", "legendX": 3203, "legendY": 829, "title": null, "symbolType": "circle", "symbolSize": 484, "symbolStrokeWidth": 3, "labelFont": "Noto Sans CJK JP", "labelFontSize": 47, "labelFontWeight": "bold", "labelOffset": 50, "rowPadding": 33}},
         "stroke": {"field": "group", "type": "nominal", "scale": {"domain": ["複合免疫療法", "複合免疫療法＋COX2阻害剤"], "range": ["#000000", "#8a8a8a"]},
           "legend": {"orient": "none", "legendX": 3203, "legendY": 829, "title": null, "symbolType": "circle", "symbolSize": 484, "symbolStrokeWidth": 3, "labelFont": "Noto Sans CJK JP", "labelFontSize": 47, "labelFontWeight": "bold", "labelOffset": 50, "rowPadding": 33}}}}
    ]
  },
  {
    "data": {"name": "dd"},
    "transform": [{"filter": {"field": "gene", "equal": "Cd8a"}}],
    "encoding": {
      "x": {"field": "group", "type": "nominal", "scale": {"type": "band", "domain": ["複合免疫療法", "複合免疫療法＋COX2阻害剤"], "range": [2960, 3160], "paddingInner": 0, "paddingOuter": 0}, "axis": null},
      "y": {"field": "value", "type": "quantitative", "scale": {"domain": [0, 2], "range": [1323, 822], "nice": false, "zero": false}, "axis": null}
    },
    "layer": [
      {"mark": {"type": "tick", "orient": "horizontal", "size": 64, "thickness": 4, "color": "#000", "opacity": 1},
       "encoding": {"y": {"aggregate": "median", "field": "value", "type": "quantitative", "scale": {"domain": [0, 2], "range": [1323, 822], "nice": false, "zero": false}, "axis": null}}},
      {"mark": {"type": "point", "shape": "circle", "filled": true, "size": 484, "strokeWidth": 3, "opacity": 1},
       "encoding": {"xOffset": {"field": "slot", "type": "quantitative", "scale": {"domain": [-1, 1], "range": [26, 74]}},
         "fill": {"field": "group", "type": "nominal", "scale": {"domain": ["複合免疫療法", "複合免疫療法＋COX2阻害剤"], "range": ["#333333", "#ff7b7b"]}, "legend": null},
         "stroke": {"field": "group", "type": "nominal", "scale": {"domain": ["複合免疫療法", "複合免疫療法＋COX2阻害剤"], "range": ["#000000", "#8a8a8a"]}, "legend": null}}}
    ]
  }
],
"resolve": {
  "scale": {"x": "independent", "y": "independent", "xOffset": "independent", "color": "independent", "shape": "independent", "fill": "independent", "stroke": "independent"},
  "axis": {"x": "independent", "y": "independent"},
  "legend": {"color": "independent", "shape": "independent", "fill": "independent", "stroke": "independent"}
}
}
